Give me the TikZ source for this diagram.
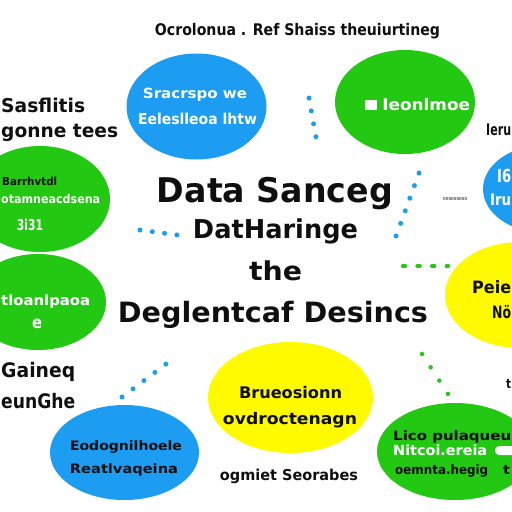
\documentclass[tikz,border=0pt]{standalone}
\usepackage{fontspec}
\setmainfont{DejaVu Sans}
\usetikzlibrary{shapes.geometric}
\definecolor{cblue}{RGB}{28,157,242}
\definecolor{cgreen}{RGB}{34,200,18}
\definecolor{cyellow}{RGB}{255,250,0}
\definecolor{ink}{RGB}{15,15,15}
\newcommand{\tx}[3]{\resizebox{#1pt}{\height}{\fontsize{#2}{#2}\selectfont\bfseries #3}}
\begin{document}
\begin{tikzpicture}[x=1pt,y=-1pt,
  blob/.style={ellipse, draw=none, inner sep=0pt},
  lbl/.style={inner sep=0pt, text=ink, anchor=base},
  wlbl/.style={inner sep=0pt, text=white, anchor=base},
  bdots/.style={draw=cblue, line width=5pt, line cap=round},
  gdots/.style={draw=cgreen, line width=4.5pt, line cap=round}]
\useasboundingbox (0,0) rectangle (512,512);
\clip (0,0) rectangle (512,512);
\fill[white] (0,0) rectangle (512,512);

% ellipses
\node[blob, fill=cblue,   minimum width=140pt, minimum height=106pt] (eTL) at (196.5,106.5) {};
\node[blob, fill=cgreen,  minimum width=140pt, minimum height=104pt] (eTR) at (405,102) {};
\node[blob, fill=cgreen,  minimum width=140pt, minimum height=106pt] (eLa) at (40,199) {};
\node[blob, fill=cgreen,  minimum width=136pt, minimum height=96pt]  (eLb) at (38,302) {};
\node[blob, fill=cblue,   minimum width=124pt, minimum height=88pt]  (eRa) at (545,189) {};
\node[blob, fill=cyellow, minimum width=150pt, minimum height=106pt] (eRb) at (520,295) {};
\node[blob, fill=cyellow, minimum width=165pt, minimum height=111pt] (eB)  at (290.5,397.5) {};
\node[blob, fill=cblue,   minimum width=149pt, minimum height=95pt]  (eBL) at (124.5,452.5) {};
\node[blob, fill=cgreen,  minimum width=156pt, minimum height=97pt]  (eBR) at (455,451.5) {};

% dotted lines
\coordinate (a1) at (140,230); \coordinate (a2) at (177.3,235);
\draw[bdots, dash pattern=on 0pt off 12.4pt] (a1) -- (a2);
\coordinate (b1) at (419,173); \coordinate (b2) at (396,236.2);
\draw[bdots, dash pattern=on 0pt off 13.4pt] (b1) -- (b2);
\coordinate (c1) at (309,98); \coordinate (c2) at (316,137.3);
\draw[bdots, dash pattern=on 0pt off 13.1pt] (c1) -- (c2);
\coordinate (d1) at (403,266); \coordinate (d2) at (448,266);
\draw[gdots, dash pattern=on 2pt off 12.6pt] (d1) -- (d2);
\coordinate (e1) at (122,397); \coordinate (e2) at (166.2,363.9);
\draw[bdots, dash pattern=on 0pt off 13.7pt] (e1) -- (e2);
\coordinate (f1) at (422,354); \coordinate (f2) at (448.2,394.2);
\draw[gdots, dash pattern=on 0pt off 15.85pt] (f1) -- (f2);

% top caption
\node[lbl] (cap) at (297.5,35) {\tx{285}{16}{Ocrolonua . Ref Shaiss theuiurtineg}};

% title
\node[lbl] (t1) at (275,202) {\tx{236}{34}{Data Sanceg}};
\node[lbl] (t2) at (275.5,238) {\tx{165}{26}{DatHaringe}};
\node[lbl] (t3) at (275.5,280) {\tx{53}{26}{the}};
\node[lbl] (t4) at (273,322) {\tx{310}{28}{Deglentcaf Desincs}};

% blue top-left
\node[wlbl] (tl1) at (195,98) {\tx{104}{14}{Sracrspo we}};
\node[wlbl] (tl2) at (197.5,124) {\tx{119}{15}{Eeleslleoa lhtw}};
% green top-right
\node[wlbl] (tr1) at (417.5,110) {\tx{105}{16}{\rule{11pt}{10pt} Ieonlmoe}};

% left texts
\node[lbl, anchor=base west] (lt1) at (1,112) {\tx{84}{19}{Sasflitis}};
\node[lbl, anchor=base west] (lt2) at (1,137) {\tx{117}{19}{gonne tees}};
\node[lbl, anchor=base west] (lt3) at (1,377) {\tx{74}{20}{Gaineq}};
\node[lbl, anchor=base west] (lt4) at (1,408) {\tx{74}{20}{eunGhe}};

% green left a
\node[lbl, anchor=base west] (la1) at (2,185) {\tx{55}{11}{Barrhvtdl}};
\node[wlbl, anchor=base west] (la2) at (1,203) {\tx{99}{12}{otamneacdsena}};
\node[wlbl] (la3) at (30,230) {\tx{26}{15}{3i31}};
% green left b
\node[wlbl, anchor=base west] (lb1) at (1,305) {\tx{89}{14}{tloanlpaoa}};
\node[wlbl] (lb2) at (37,328) {\tx{10}{17}{e}};

% right side
\node[lbl, anchor=base west] (rt1) at (486,135) {\tx{25}{16}{Ieru}};
\node[wlbl, anchor=base west] (ra1) at (497,182) {\tx{14}{18}{I6}};
\node[wlbl, anchor=base west] (ra2) at (490,205) {\tx{21}{16}{Iru}};
\node[lbl, anchor=base west, text=ink!70] (rd) at (443,200) {\tx{24}{5}{nnnnnnnnn}};
\node[lbl, anchor=base west] (rb1) at (472,293) {\tx{39}{17}{Peie}};
\node[lbl, anchor=base west] (rb2) at (492,318) {\tx{19}{17}{Nö}};
\node[lbl, anchor=base west] (rc) at (506,388) {\tx{5}{13}{t}};

% yellow bottom
\node[lbl] (yb1) at (290.5,398) {\tx{103}{16}{Brueosionn}};
\node[lbl] (yb2) at (290,424) {\tx{134}{16}{ovdroctenagn}};
\node[lbl] (cap2) at (289,480) {\tx{138}{15}{ogmiet Seorabes}};

% blue bottom-left
\node[lbl] (bl1) at (126,450) {\tx{112}{13}{Eodognilhoele}};
\node[lbl] (bl2) at (124,473) {\tx{108}{13}{Reatlvaqeina}};

% green bottom-right
\node[lbl, anchor=base west] (br1) at (393,440) {\tx{118}{13}{Lico pulaqueu}};
\node[wlbl, anchor=base west] (br2) at (393,455) {\tx{94}{14}{Nitcoi.ereia}};
\fill[white, rounded corners=4pt] (495,446) rectangle (520,455);
\node[lbl, anchor=base west] (br3) at (395,474) {\tx{93}{13}{oemnta.hegig}};
\node[lbl, anchor=base west] (br4) at (503,474) {\tx{7}{13}{t}};
\end{tikzpicture}
\end{document}
